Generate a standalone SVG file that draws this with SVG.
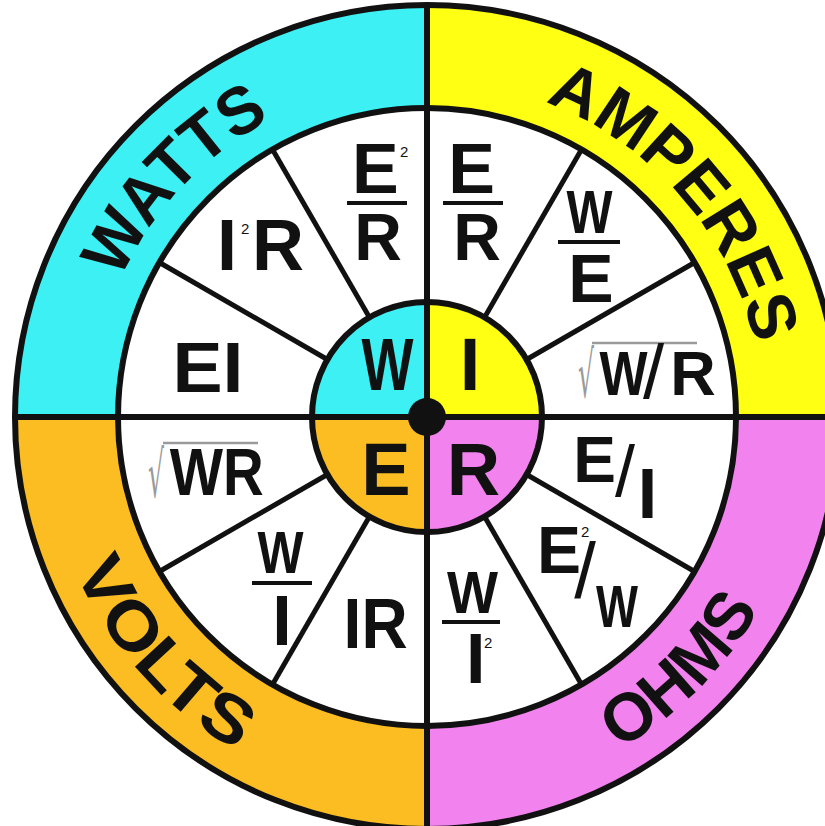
<svg xmlns="http://www.w3.org/2000/svg" width="825" height="826" viewBox="0 0 825 826">
<defs>
<style>
.t{font-family:"Liberation Sans",Arial,sans-serif;font-weight:bold;fill:#111;}
.ring{font-family:"Liberation Sans",Arial,sans-serif;font-weight:bold;font-size:67px;fill:#111;}
.sl{font-family:"Liberation Sans",Arial,sans-serif;font-weight:normal;fill:#111;}
.sup{font-family:"Liberation Sans",Arial,sans-serif;font-weight:normal;font-size:15px;fill:#111;}
.rad{font-family:"DejaVu Sans","Liberation Sans",sans-serif;font-weight:normal;fill:#9a9a9a;}
.vin{stroke:#9a9a9a;stroke-width:2.5;}
.bar{stroke:#111;stroke-width:4;}
.k{stroke:#111;fill:none;}
</style>
<path id="pW" d="M91,417 A336,336 0 0 1 427,81"/>
<path id="pA" d="M427,81 A336,336 0 0 1 763,417"/>
<path id="pV" d="M43,417 A384,384 0 0 0 427,801"/>
<path id="pO" d="M427,801 A384,384 0 0 0 811,417"/>
</defs>
<rect width="825" height="826" fill="#fff"/>
<g id="ring">
<path d="M427,417 L15,417 A412,412 0 0 1 427,5 Z" fill="#3cf0f3"/>
<path d="M427,417 L427,5 A412,412 0 0 1 839,417 Z" fill="#ffff14"/>
<path d="M427,417 L839,417 A412,412 0 0 1 427,829 Z" fill="#f283ee"/>
<path d="M427,417 L427,829 A412,412 0 0 1 15,417 Z" fill="#fcbd22"/>
<circle cx="427" cy="417" r="309" fill="#fff"/>
<circle class="k" cx="427" cy="417" r="412" stroke-width="6"/>
<circle class="k" cx="427" cy="417" r="309" stroke-width="6"/>
</g>
<g id="spokes" class="k" stroke-width="5">
<line x1="526.6" y1="359.5" x2="694.6" y2="262.5"/>
<line x1="484.5" y1="317.4" x2="581.5" y2="149.4"/>
<line x1="369.5" y1="317.4" x2="272.5" y2="149.4"/>
<line x1="327.4" y1="359.5" x2="159.4" y2="262.5"/>
<line x1="327.4" y1="474.5" x2="159.4" y2="571.5"/>
<line x1="369.5" y1="516.6" x2="272.5" y2="684.6"/>
<line x1="484.5" y1="516.6" x2="581.5" y2="684.6"/>
<line x1="526.6" y1="474.5" x2="694.6" y2="571.5"/>
</g>
<g id="hub">
<path d="M427,417 L312,417 A115,115 0 0 1 427,302 Z" fill="#3cf0f3"/>
<path d="M427,417 L427,302 A115,115 0 0 1 542,417 Z" fill="#ffff14"/>
<path d="M427,417 L542,417 A115,115 0 0 1 427,532 Z" fill="#f283ee"/>
<path d="M427,417 L427,532 A115,115 0 0 1 312,417 Z" fill="#fcbd22"/>
<circle class="k" cx="427" cy="417" r="115" stroke-width="6"/>
</g>
<g id="cross" class="k" stroke-width="6">
<line x1="427" y1="5" x2="427" y2="829"/>
<line x1="15" y1="417" x2="839" y2="417"/>
</g>
<circle id="center" cx="427" cy="417" r="19" fill="#111"/>
<g id="labels">
<text class="ring"><textPath href="#pW" startOffset="48%" text-anchor="middle" textLength="224" lengthAdjust="spacingAndGlyphs">WATTS</textPath></text>
<text class="ring"><textPath href="#pA" startOffset="54.5%" text-anchor="middle" textLength="334" lengthAdjust="spacingAndGlyphs">AMPERES</textPath></text>
<text class="ring"><textPath href="#pV" startOffset="46.5%" text-anchor="middle" textLength="247" lengthAdjust="spacingAndGlyphs">VOLTS</textPath></text>
<text class="ring"><textPath href="#pO" startOffset="50%" text-anchor="middle" textLength="200" lengthAdjust="spacingAndGlyphs">OHMS</textPath></text>
</g>
<g id="hub-letters" class="t" font-size="74" text-anchor="middle">
<text x="387.5" y="390" textLength="52" lengthAdjust="spacingAndGlyphs">W</text>
<text x="470" y="390">I</text>
<text x="386" y="495">E</text>
<text x="473.5" y="495">R</text>
</g>
<g id="watts-sectors">
<text class="t" font-size="70"><tspan x="351.9" y="193">E</tspan><tspan class="sup" x="400" y="157">2</tspan></text>
<line class="bar" x1="347" y1="203" x2="407" y2="203"/>
<text class="t" font-size="66" x="378" y="260" text-anchor="middle">R</text>
<text class="t" font-size="72"><tspan x="217" y="270">I</tspan><tspan class="sup" font-size="13" x="241" y="234">2</tspan><tspan x="252" y="270">R</tspan></text>
<text class="t" font-size="70" x="208" y="392" text-anchor="middle" textLength="71" lengthAdjust="spacingAndGlyphs">EI</text>
</g>
<g id="amperes-sectors">
<text class="t" font-size="70" x="471.5" y="193" text-anchor="middle">E</text>
<line class="bar" x1="443" y1="203" x2="503" y2="203"/>
<text class="t" font-size="66" x="477" y="260" text-anchor="middle">R</text>
<text class="t" font-size="62" x="589.5" y="233" text-anchor="middle" textLength="46" lengthAdjust="spacingAndGlyphs">W</text>
<line class="bar" x1="558" y1="242" x2="620" y2="242"/>
<text class="t" font-size="68" x="591" y="302" text-anchor="middle">E</text>
<text class="rad" font-size="64" x="578" y="397" textLength="16" lengthAdjust="spacingAndGlyphs">√</text>
<line class="vin" x1="592" y1="343" x2="697" y2="343"/>
<text class="t" font-size="63" x="623.5" y="395" text-anchor="middle" textLength="48" lengthAdjust="spacingAndGlyphs">W</text>
<text class="sl" font-size="76" x="653.5" y="398" text-anchor="middle">/</text>
<text class="t" font-size="63" x="693" y="395" text-anchor="middle">R</text>
</g>
<g id="ohms-sectors">
<text class="t" font-size="64" x="594.5" y="482" text-anchor="middle">E</text>
<text class="sl" font-size="72" x="625" y="496" text-anchor="middle">/</text>
<text class="t" font-size="70" x="647.5" y="518" text-anchor="middle">I</text>
<text class="t" font-size="66"><tspan x="537" y="573">E</tspan><tspan class="sup" font-size="14" x="581" y="537">2</tspan></text>
<text class="sl" font-size="78" x="585" y="598" text-anchor="middle">/</text>
<text class="t" font-size="60" x="617" y="627" text-anchor="middle" textLength="42" lengthAdjust="spacingAndGlyphs">W</text>
<text class="t" font-size="60" x="472.5" y="613" text-anchor="middle" textLength="51" lengthAdjust="spacingAndGlyphs">W</text>
<line class="bar" x1="442" y1="622" x2="500" y2="622"/>
<text class="t" font-size="70"><tspan x="466" y="683">I</tspan><tspan class="sup" font-size="14" x="484" y="648">2</tspan></text>
</g>
<g id="volts-sectors">
<text class="rad" font-size="64" x="148" y="497" textLength="16" lengthAdjust="spacingAndGlyphs">√</text>
<line class="vin" x1="163" y1="443" x2="258" y2="443"/>
<text class="t" font-size="66" x="216.7" y="495" text-anchor="middle" textLength="94" lengthAdjust="spacingAndGlyphs">WR</text>
<text class="t" font-size="60" x="280.5" y="573" text-anchor="middle" textLength="46" lengthAdjust="spacingAndGlyphs">W</text>
<line class="bar" x1="252" y1="583" x2="312" y2="583"/>
<text class="t" font-size="70" x="282" y="645" text-anchor="middle">I</text>
<text class="t" font-size="70" x="375.6" y="648" text-anchor="middle" textLength="64" lengthAdjust="spacingAndGlyphs">IR</text>
</g>
</svg>
